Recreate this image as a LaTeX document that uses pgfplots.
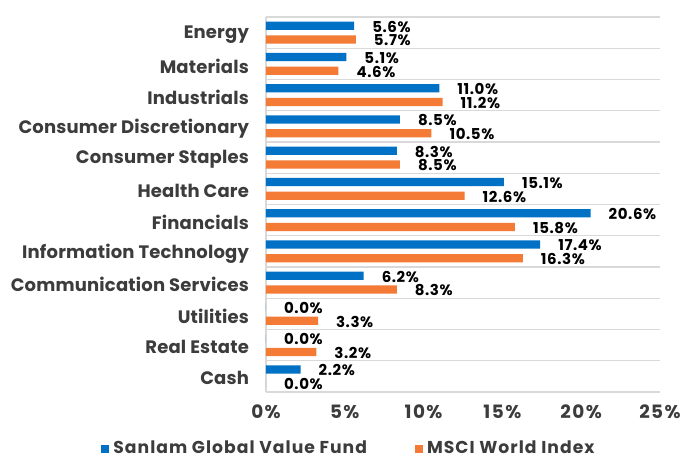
\documentclass[border=0pt]{standalone}
\usepackage{fontspec}
\setmainfont{Poppins}
\usepackage{pgfplots}
\pgfplotsset{compat=1.18}
\definecolor{fundblue}{HTML}{0071C5}
\definecolor{msciorange}{HTML}{F47B35}
\definecolor{labelgray}{HTML}{3C3C3C}
\definecolor{gridgray}{HTML}{D9D9D9}
\pgfkeys{/pgf/number format/assume math mode=true}
\begin{document}
\begin{tikzpicture}
% picture frame: 1 px of the reference = 0.5pt
\useasboundingbox (-133pt,-32.5pt) rectangle (208pt,196pt);
\begin{axis}[
    at={(0,0)}, anchor=south west,
    scale only axis,
    width=197pt, height=187.5pt,
    xbar,
    bar width=0.27,
    xmin=0, xmax=25,
    ymin=-0.5, ymax=11.5,
    xtick={0,5,...,25},
    xticklabel={\pgfmathprintnumber{\tick}\%},
    xticklabel style={font=\bfseries\fontsize{9.2}{10}\selectfont\addfontfeature{LetterSpace=8},
        text=labelgray, yshift=-3pt},
    ytick={0,...,11},
    yticklabels={Cash, Real Estate, Utilities, Communication Services, Information Technology, Financials, Health Care, Consumer Staples, Consumer Discretionary, Industrials, Materials, Energy},
    yticklabel style={font=\bfseries\fontsize{9}{10}\selectfont\addfontfeature{LetterSpace=1},
        text=labelgray, xshift=-5pt, yshift=-1pt},
    minor ytick={-0.5,0.5,...,11.5},
    ymajorgrids=false,
    yminorgrids=true,
    minor grid style={gridgray, line width=0.6pt},
    major tick length=0pt, minor tick length=0pt,
    axis x line=bottom, axis y line=left,
    axis line style={-, gridgray, line width=0.6pt},
    nodes near coords={\pgfmathprintnumber[fixed,fixed zerofill,precision=1]{\pgfplotspointmeta}\%},
    nodes near coords style={font=\bfseries\fontsize{7.5}{8}\selectfont\addfontfeature{LetterSpace=4},
        text=black, anchor=west, xshift=5.5pt, inner ysep=1pt},
    legend style={at={(0.213,-0.152)}, anchor=center, draw=none, fill=none,
        legend columns=2,
        font=\bfseries\fontsize{8.6}{10}\selectfont\addfontfeature{LetterSpace=6},
        text=labelgray,
        /tikz/every even column/.append style={column sep=22pt}},
    legend image code/.code={\fill[#1] (0pt,-2pt) rectangle (4pt,2pt);},
    clip=false,
]
\addplot[fill=fundblue, draw=none, bar shift=0.22,
    every node near coord/.append style={yshift=-0.4pt}] coordinates {
    (2.2,0) (0.0,1) (0.0,2) (6.2,3) (17.4,4) (20.6,5)
    (15.1,6) (8.3,7) (8.5,8) (11.0,9) (5.1,10) (5.6,11)};
\addplot[fill=msciorange, draw=none, bar shift=-0.22,
    every node near coord/.append style={yshift=-0.4pt}] coordinates {
    (0.0,0) (3.2,1) (3.3,2) (8.3,3) (16.3,4) (15.8,5)
    (12.6,6) (8.5,7) (10.5,8) (11.2,9) (4.6,10) (5.7,11)};
\legend{Sanlam Global Value Fund, MSCI World Index}
\end{axis}
\end{tikzpicture}
\end{document}
